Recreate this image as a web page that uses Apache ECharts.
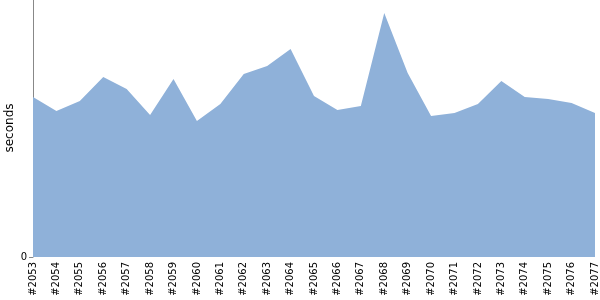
<!DOCTYPE html>
<html><head><meta charset="utf-8">
<script src="https://cdn.jsdelivr.net/npm/echarts@6/dist/echarts.min.js"></script>
<style>html,body{margin:0;padding:0;background:#fff}#c{width:600px;height:300px}</style>
</head><body><div id="c"></div>
<script>
const categories = ['#2053','#2054','#2055','#2056','#2057','#2058','#2059','#2060','#2061','#2062','#2063','#2064','#2065','#2066','#2067','#2068','#2069','#2070','#2071','#2072','#2073','#2074','#2075','#2076','#2077'];
const seconds = [160,146,156,180,168,142,178,136,153,183,191,208,161,147,151,244,184,141,144,153,176,160,158,154,144];
const yMax = 257;
const yName = 'seconds';

const chart = echarts.init(document.getElementById('c'), null, {renderer:'canvas'});
chart.setOption({
  animation:false,
  grid:{left:33,right:5,top:0,bottom:43,containLabel:false,outerBoundsMode:'none'},
  graphic:[{type:'text',x:10,y:128,rotation:Math.PI/2,
    style:{text:yName,fill:'#000',font:'12px "DejaVu Sans"',align:'center',verticalAlign:'middle'}}],
  xAxis:{type:'category',data:categories,boundaryGap:false,
    axisLine:{show:false},axisTick:{show:false},
    axisLabel:{rotate:90,interval:0,color:'#000',fontFamily:'DejaVu Sans',fontSize:10,margin:5}},
  yAxis:{type:'value',min:0,max:yMax,interval:yMax,
    axisLine:{show:true,lineStyle:{color:'#888'}},
    axisTick:{show:true,length:4,lineStyle:{color:'#888'}},
    splitLine:{show:false},
    axisLabel:{showMaxLabel:false,color:'#000',fontFamily:'DejaVu Sans',fontSize:10,margin:6}},
  series:[{type:'line',data:seconds,smooth:false,symbol:'none',
    lineStyle:{width:0},areaStyle:{color:'#8fb1d9',opacity:1}}]
});
</script></body></html>
